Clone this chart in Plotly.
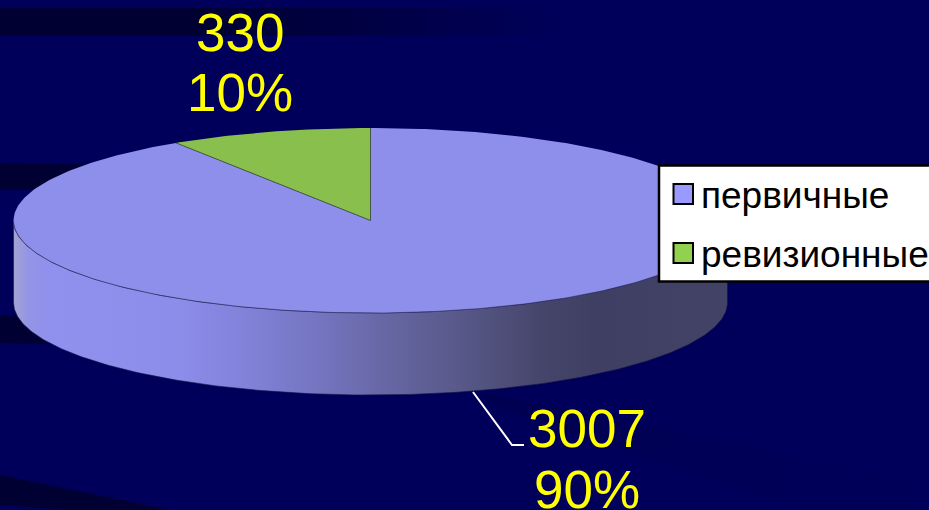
import numpy as np
import plotly.graph_objects as go

# ---- data ----
categories = ["первичные", "ревизионные"]
values = [3007, 330]
percent_labels = ["90%", "10%"]

# ---- styles ----
FONT = "Liberation Sans"
BG = "#00005A"
TOP_COLORS = ["#8E8EEB", "#89BF4D"]
SWATCH_COLORS = ["#9999FF", "#92D050"]
YELLOW = "#FFFF00"
W, H = 929, 510
CX, CY, RX, RY, DEPTH = 370.5, 220.5, 357, 92.5, 82
VIEW_K = 0.907  # foreshortening of angles by the 3-D view


def project(theta):
    phi = np.arctan2(VIEW_K * np.sin(theta), np.cos(theta))
    return CX + RX * np.sin(phi), CY - RY * np.cos(phi)


total = sum(values)
slice_b = 2 * np.pi * values[1] / total
start = 2 * np.pi - slice_b  # the small slice ends at 12 o'clock

fig = go.Figure()


def streak(xs, ys, colors):
    n = len(colors) - 1
    fig.add_trace(go.Scatter(
        x=xs, y=ys, mode="lines", fill="toself", line=dict(width=0),
        fillgradient=dict(type="horizontal",
                          colorscale=[[i / n, c] for i, c in enumerate(colors)]),
        hoverinfo="skip", showlegend=False))


dark = "rgba(0,0,50,1)"
clear = "rgba(0,0,50,0)"
streak([0, 560, 560, 0, 0], [8, 8, 36, 36, 8], [dark, dark, "rgba(0,0,50,0.55)", clear])
streak([0, 120, 120, 0, 0], [163, 165, 190, 190, 163], [dark, dark])
streak([0, 90, 90, 0, 0], [315, 318, 345, 343, 315], [dark, dark])
streak([0, 170, 70, 0, 0], [475, 510, 510, 505, 475], [dark, dark])
streak([480, 929, 929, 810, 490, 480], [392, 482, 510, 510, 405, 392],
       ["rgba(0,0,50,0.22)", "rgba(0,0,50,0.08)", clear])

# side wall
front = np.linspace(np.pi / 2, 3 * np.pi / 2, 240)
ex, ey = CX + RX * np.sin(front), CY - RY * np.cos(front)
wall_x = np.r_[ex, ex[::-1], ex[0]]
wall_y = np.r_[ey, ey[::-1] + DEPTH, ey[0]]
wall_stops = [[0, "#A4A4D2"], [0.02, "#9494E6"], [0.05, "#9090EE"], [0.234, "#8C8CEA"],
              [0.33, "#8181D8"], [0.444, "#7272BC"], [0.54, "#64649F"], [0.633, "#575787"],
              [0.74, "#45456B"], [0.82, "#3F3F63"], [1, "#434368"]]
fig.add_trace(go.Scatter(
    x=wall_x, y=wall_y, mode="lines", fill="toself",
    line=dict(width=1, color="rgba(20,20,70,0.6)"),
    fillgradient=dict(type="horizontal", colorscale=wall_stops),
    hoverinfo="skip", showlegend=False))

# top faces
for name, color, a, b in [(categories[0], TOP_COLORS[0], 0.0, start),
                          (categories[1], TOP_COLORS[1], start, 2 * np.pi)]:
    t = np.linspace(a, b, 400)
    px, py = project(t)
    fig.add_trace(go.Scatter(
        x=np.r_[CX, px, CX], y=np.r_[CY, py, CY], mode="lines", fill="toself",
        fillcolor=color, line=dict(width=0), name=name,
        hoverinfo="skip", showlegend=False))

# rims
fig.add_trace(go.Scatter(x=ex, y=ey, mode="lines",
                         line=dict(width=1, color="rgba(50,50,95,0.6)"),
                         hoverinfo="skip", showlegend=False))
ax, ay = project(np.array([start]))
fig.add_trace(go.Scatter(x=[ax[0], CX, CX], y=[ay[0], CY, CY - RY], mode="lines",
                         line=dict(width=1, color="rgba(60,75,60,0.8)"),
                         hoverinfo="skip", showlegend=False))

# leader line
fig.add_trace(go.Scatter(x=[473, 512, 524], y=[392, 445, 445], mode="lines",
                         line=dict(width=2, color="#FFFFFF"),
                         hoverinfo="skip", showlegend=False))

# legend box
shapes = [dict(type="rect", xref="x", yref="y", x0=659, x1=940, y0=165.5, y1=281.5,
               fillcolor="#FFFFFF", line=dict(color="#000000", width=2.5), layer="above")]
annotations = []
for name, color, yc in zip(categories, SWATCH_COLORS, [194, 253]):
    shapes.append(dict(type="rect", xref="x", yref="y", x0=673.5, x1=693, y0=yc - 10, y1=yc + 10,
                       fillcolor=color, line=dict(color="#000000", width=2), layer="above"))
    annotations.append(dict(x=699, y=yc + 1, text=name, showarrow=False, xanchor="left",
                            yanchor="middle", font=dict(family=FONT, size=37, color="#000000")))

# data labels
label_font = dict(family=FONT, size=53, color=YELLOW)
for x, y1, y2, v, p in [(240, 32, 92, values[1], percent_labels[1]),
                        (587, 428, 489, values[0], percent_labels[0])]:
    annotations.append(dict(x=x, y=y1, text=str(v), showarrow=False, font=label_font,
                            xanchor="center", yanchor="middle"))
    annotations.append(dict(x=x, y=y2, text=p, showarrow=False, font=label_font,
                            xanchor="center", yanchor="middle"))

fig.update_layout(
    width=W, height=H, margin=dict(l=0, r=0, t=0, b=0),
    paper_bgcolor=BG, plot_bgcolor=BG, showlegend=False,
    xaxis=dict(range=[0, W], visible=False, fixedrange=True),
    yaxis=dict(range=[H, 0], visible=False, fixedrange=True),
    shapes=shapes, annotations=annotations,
)
fig.write_html("out.html", config=dict(displayModeBar=False),
               post_script="document.body.style.margin='0';document.documentElement.style.overflow='hidden';")
